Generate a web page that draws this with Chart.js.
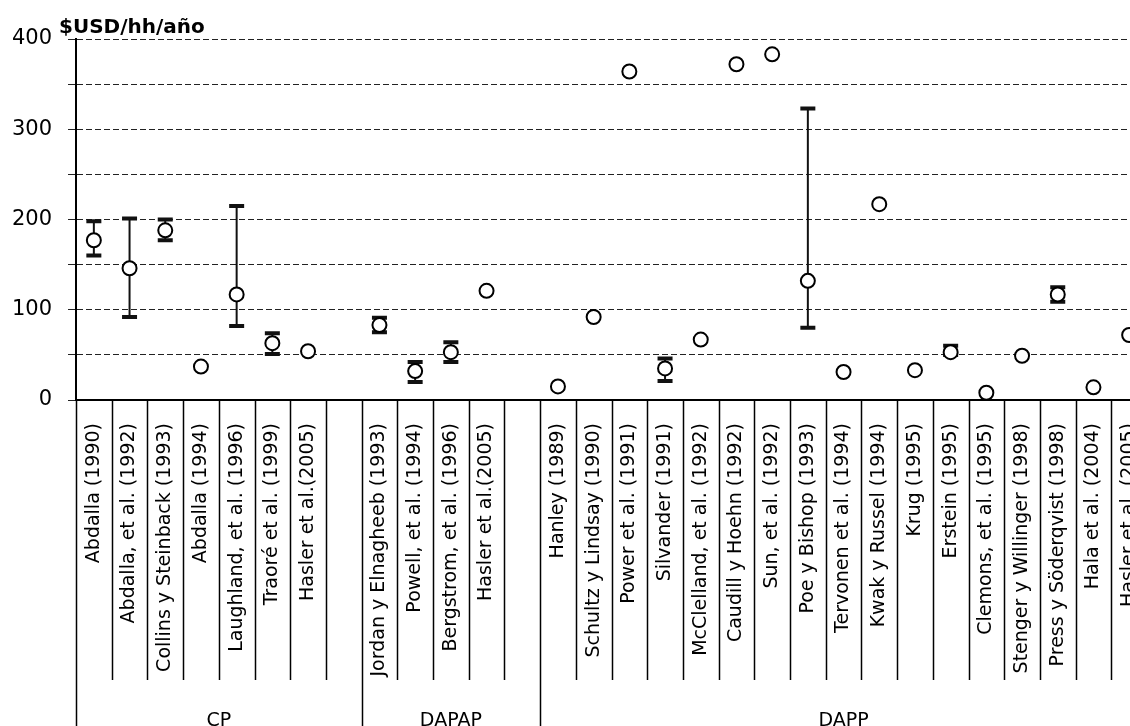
<!DOCTYPE html>
<html>
<head>
<meta charset="utf-8">
<script src="https://cdn.jsdelivr.net/npm/chart.js@4.4.1/dist/chart.umd.min.js"></script>
<style>
  html, body { margin: 0; padding: 0; background: #fff; overflow: hidden; }
  #wrap { position: relative; width: 1190px; height: 745px; }
</style>
</head>
<body>
<div id="wrap"><canvas id="wtpChart"></canvas></div>
<script>
// Estudios por categoría (huecos vacíos separan los grupos)
const studies = [
    'Abdalla (1990)', 'Abdalla, et al. (1992)', 'Collins y Steinback (1993)', 'Abdalla (1994)',
    'Laughland, et al. (1996)', 'Traoré et al. (1999)', 'Hasler et al.(2005)', '',
    'Jordan y Elnagheeb (1993)', 'Powell, et al. (1994)', 'Bergstrom, et al. (1996)', 'Hasler et al.(2005)', '',
    'Hanley (1989)', 'Schultz y Lindsay (1990)', 'Power et al. (1991)', 'Silvander (1991)',
    'McClelland, et al. (1992)', 'Caudill y Hoehn (1992)', 'Sun, et al. (1992)', 'Poe y Bishop (1993)',
    'Tervonen et al. (1994)', 'Kwak y Russel (1994)', 'Krug (1995)', 'Erstein (1995)',
    'Clemons, et al. (1995)', 'Stenger y Willinger (1998)', 'Press y Söderqvist (1998)', 'Hala et al. (2004)',
    'Hasler et al. (2005)'
];

// Disposición a pagar media ($USD/hh/año)
const wtpMean = [177, 146, 188, 37, 117, 63, 54, null,
    83, 32, 53, 121, null,
    15, 92, 364, 35, 67, 372, 383, 132, 31, 217, 33, 53, 8, 49, 117, 14, 72];

// Intervalos (mínimo / máximo) cuando el estudio los reporta
const wtpLow = [160, 92, 177, null, 82, 51, null, null,
    75, 20, 42, null, null,
    null, null, null, 21, null, null, null, 80, null, null, null, 50, null, null, 109, null, null];
const wtpHigh = [198, 201, 200, null, 215, 74, null, null,
    91, 42, 64, null, null,
    null, null, null, 46, null, null, null, 323, null, null, null, 60, null, null, 125, null, null];

// Grupos de estudios (índice inicial / final)
const groupNames = ['CP', 'DAPAP', 'DAPP'];
const groupFirst = [0, 8, 13];
const groupLast = [7, 12, 29];

const yTicks = [0, 100, 200, 300, 400];

// ===================== BARRAS DE ERROR =====================
const errorBars = {
    id: 'errorBars',
    beforeDatasetsDraw(chart) {
        const { ctx, scales: { x, y } } = chart;
        ctx.save();
        ctx.strokeStyle = '#111';
        wtpLow.forEach((lo, i) => {
            const hi = wtpHigh[i];
            if (lo === null || hi === null) return;
            const px = x.getPixelForValue(i);
            const yLo = y.getPixelForValue(lo);
            const yHi = y.getPixelForValue(hi);
            ctx.lineWidth = 2;
            ctx.beginPath();
            ctx.moveTo(px, yLo);
            ctx.lineTo(px, yHi);
            ctx.stroke();
            ctx.lineWidth = 4;
            ctx.beginPath();
            ctx.moveTo(px - 7.5, yLo); ctx.lineTo(px + 7.5, yLo);
            ctx.moveTo(px - 7.5, yHi); ctx.lineTo(px + 7.5, yHi);
            ctx.stroke();
        });
        ctx.restore();
    }
};

// ===================== SEPARADORES Y GRUPOS =====================
const groupAxis = {
    id: 'groupAxis',
    afterDraw(chart) {
        const { ctx, chartArea, scales: { x } } = chart;
        const step = x.getPixelForValue(1) - x.getPixelForValue(0);
        const base = chartArea.bottom;
        ctx.save();
        ctx.strokeStyle = '#000';
        ctx.lineWidth = 1.5;
        for (let i = 0; i <= studies.length; i++) {
            const px = Math.round(x.getPixelForValue(i) - step / 2) + 0.5;
            const full = groupFirst.includes(i);
            ctx.beginPath();
            ctx.moveTo(px, base);
            ctx.lineTo(px, full ? chart.height : base + 280);
            ctx.stroke();
        }
        ctx.fillStyle = '#000';
        ctx.font = '19px "DejaVu Sans"';
        ctx.textAlign = 'center';
        ctx.textBaseline = 'top';
        groupNames.forEach((name, g) => {
            const cx = (x.getPixelForValue(groupFirst[g]) + x.getPixelForValue(groupLast[g])) / 2;
            ctx.fillText(name, cx, 712);
        });
        // título del eje Y
        ctx.font = 'bold 20px "DejaVu Sans"';
        ctx.textAlign = 'left';
        ctx.textBaseline = 'alphabetic';
        ctx.fillText('$USD/hh/año', 59, 33);
        ctx.restore();
    }
};

new Chart(document.getElementById('wtpChart'), {
    type: 'line',
    data: {
        labels: studies,
        datasets: [{
            data: wtpMean,
            showLine: false,
            pointStyle: 'circle',
            pointRadius: 7,
            pointHoverRadius: 7,
            pointBorderWidth: 2,
            pointBackgroundColor: '#fff',
            pointBorderColor: '#000'
        }]
    },
    options: {
        responsive: true,
        maintainAspectRatio: false,
        animation: false,
        layout: { padding: { left: 0, top: 39, right: 43, bottom: 45 } },
        plugins: {
            legend: { display: false },
            tooltip: { enabled: false }
        },
        scales: {
            x: {
                type: 'category',
                offset: true,
                grid: { display: false },
                border: { display: true, color: '#000', width: 2 },
                ticks: {
                    autoSkip: false,
                    minRotation: 90,
                    maxRotation: 90,
                    padding: 15,
                    color: '#000',
                    font: { family: '"DejaVu Sans"', size: 19 }
                },
                afterFit(scale) { scale.height = 300; }
            },
            y: {
                min: 0,
                max: 400,
                grid: { color: '#222', lineWidth: 1, tickLength: 8 },
                border: { display: true, color: '#000', width: 2, dash: [6, 3] },
                ticks: {
                    stepSize: 50,
                    padding: 16,
                    color: '#000',
                    font: { family: '"DejaVu Sans"', size: 21 },
                    callback: v => yTicks.includes(v) ? v : ''
                },
                afterFit(scale) { scale.width = 76; }
            }
        }
    },
    plugins: [errorBars, groupAxis]
});
</script>
</body>
</html>
